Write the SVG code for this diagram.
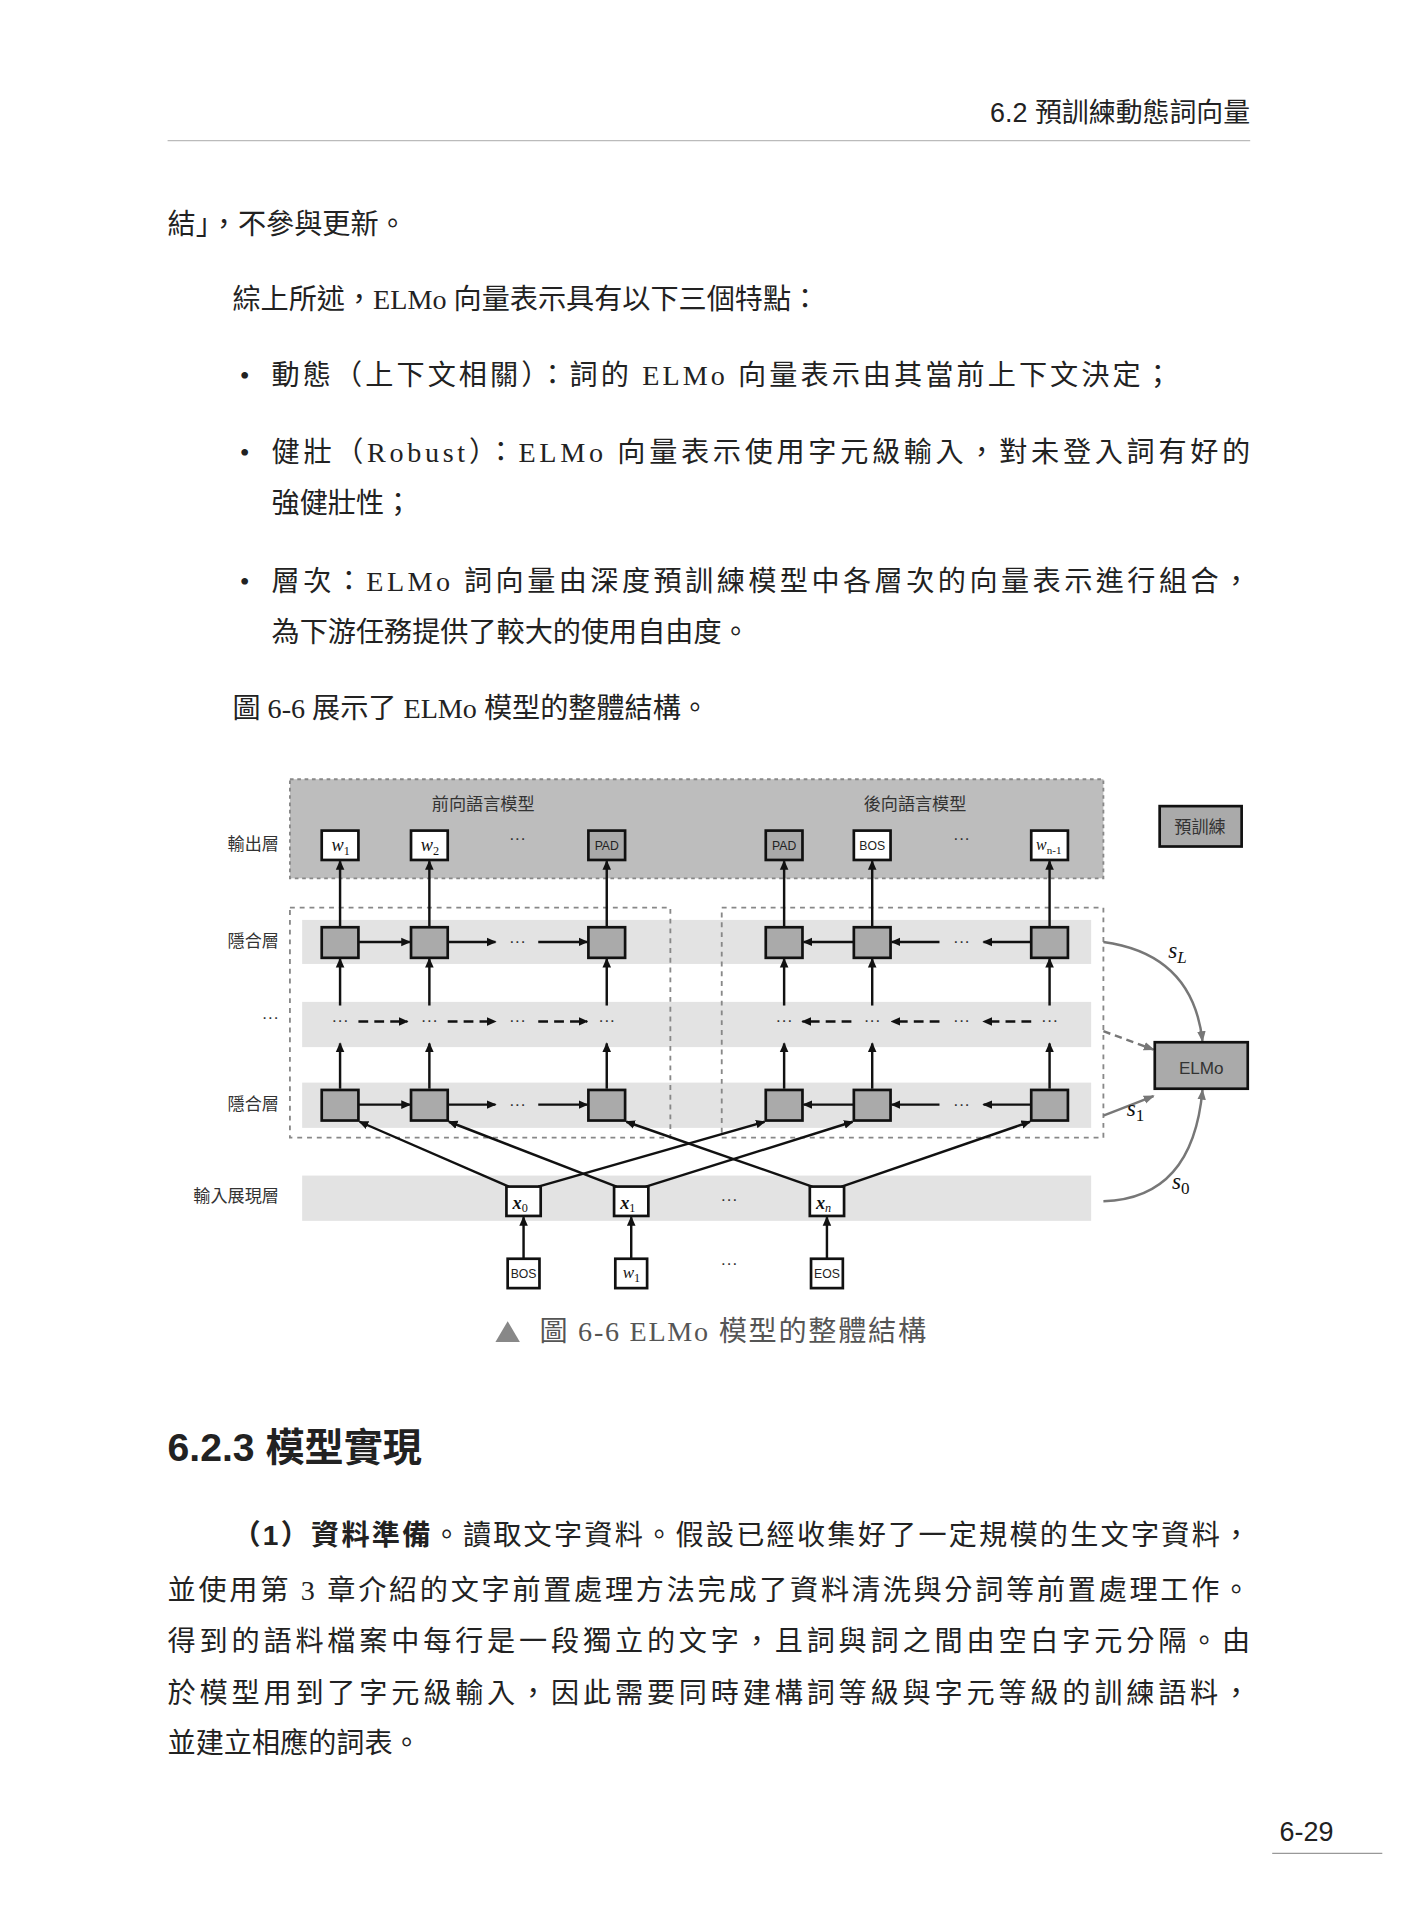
<svg xmlns="http://www.w3.org/2000/svg" width="1419" height="1920" viewBox="0 0 1419 1920">
<style>
.b{font-family:"Liberation Serif","Noto Sans CJK TC",serif;font-size:23px;fill:#222}
.s{font-family:"Liberation Sans","Noto Sans CJK TC",sans-serif;fill:#222}
.m{font-family:"Liberation Serif",serif;font-style:italic;fill:#111}
.lab{font-family:"Liberation Sans","Noto Sans CJK TC",sans-serif;font-size:14px;fill:#333}
.t{font-family:"Liberation Sans",sans-serif;font-size:10px;fill:#222}
.n{stroke:#111;stroke-width:2.2}
.w{fill:#fff}.g{fill:#aaa}
.ln{stroke:#111;stroke-width:2;fill:none}
.dl{stroke:#111;stroke-width:2;stroke-dasharray:8,5;fill:none}
.cv{stroke:#777;stroke-width:2;fill:none}
.band{fill:#e3e3e3}
</style>
<defs>
<marker id="a" markerWidth="8" markerHeight="8" refX="7" refY="4" orient="auto" markerUnits="userSpaceOnUse"><path d="M0,0.5 L8,4 L0,7.5 z" fill="#111"/></marker>
<marker id="ag" markerWidth="9" markerHeight="9" refX="8" refY="4.5" orient="auto" markerUnits="userSpaceOnUse"><path d="M0,1 L9,4.5 L0,8 z" fill="#777"/></marker>
</defs>
<g transform="scale(1.22328)">
<g id="page">
<text class="s" x="1022" y="100" font-size="22" text-anchor="end">6.2  預訓練動態詞向量</text>
<line x1="137" y1="115" x2="1022" y2="115" stroke="#bbb" stroke-width="1"/>
<text class="b" x="137" y="191">結」，不參與更新。</text>
<text class="b" x="190" y="253">綜上所述，ELMo 向量表示具有以下三個特點：</text>
<text class="b" x="196" y="315">•</text>
<text class="b" x="222" y="315" textLength="736">動態（上下文相關）：詞的 ELMo 向量表示由其當前上下文決定；</text>
<text class="b" x="196" y="378">•</text>
<text class="b" x="222" y="378" textLength="800">健壯（Robust）：ELMo 向量表示使用字元級輸入，對未登入詞有好的</text>
<text class="b" x="222" y="419">強健壯性；</text>
<text class="b" x="196" y="483">•</text>
<text class="b" x="222" y="483" textLength="800">層次：ELMo 詞向量由深度預訓練模型中各層次的向量表示進行組合，</text>
<text class="b" x="222" y="525">為下游任務提供了較大的使用自由度。</text>
<text class="b" x="190" y="587">圖 6-6 展示了 ELMo 模型的整體結構。</text>
<polygon points="405,1097 415,1080 425,1097" fill="#888"/>
<text class="b" x="441" y="1096" style="fill:#555" font-size="22" textLength="316">圖 6-6  ELMo 模型的整體結構</text>
<text class="s" x="137" y="1194" font-size="32" font-weight="bold">6.2.3  模型實現</text>
<text class="b" x="190" y="1263" textLength="832"><tspan class="s" font-weight="bold" font-size="23">（1）資料準備</tspan>。讀取文字資料。假設已經收集好了一定規模的生文字資料，</text>
<text class="b" x="137" y="1308" textLength="885">並使用第 3 章介紹的文字前置處理方法完成了資料清洗與分詞等前置處理工作。</text>
<text class="b" x="137" y="1350" textLength="885">得到的語料檔案中每行是一段獨立的文字，且詞與詞之間由空白字元分隔。由</text>
<text class="b" x="137" y="1392" textLength="885">於模型用到了字元級輸入，因此需要同時建構詞等級與字元等級的訓練語料，</text>
<text class="b" x="137" y="1433">並建立相應的詞表。</text>
<text class="s" x="1090" y="1505" font-size="22" text-anchor="end">6-29</text>
<line x1="1040" y1="1515" x2="1130" y2="1515" stroke="#999" stroke-width="1"/>
</g>
<g id="backgrounds">
<rect x="237" y="637" width="665" height="81" fill="#bdbdbd" stroke="#888" stroke-width="1.5" stroke-dasharray="3,3"/>
<rect x="247" y="752" width="645" height="36" class="band"/>
<rect x="247" y="819" width="645" height="37" class="band"/>
<rect x="247" y="885" width="645" height="37" class="band"/>
<rect x="247" y="961" width="645" height="37" class="band"/>
<rect x="237" y="742" width="311" height="188" fill="none" stroke="#888" stroke-width="1.5" stroke-dasharray="4,4"/>
<rect x="590" y="742" width="312" height="188" fill="none" stroke="#888" stroke-width="1.5" stroke-dasharray="4,4"/>
<text class="lab" x="395" y="662" text-anchor="middle" font-size="15">前向語言模型</text>
<text class="lab" x="748" y="662" text-anchor="middle" font-size="15">後向語言模型</text>
<text class="lab" x="228" y="695" text-anchor="end" font-size="15">輸出層</text>
<text class="lab" x="228" y="774" text-anchor="end" font-size="15">隱合層</text>
<text class="lab" x="228" y="836" text-anchor="end">···</text>
<text class="lab" x="228" y="907" text-anchor="end" font-size="15">隱合層</text>
<text class="lab" x="228" y="983" text-anchor="end" font-size="15">輸入展現層</text>
</g>
<g id="connectors">
<line class="ln" x1="278" y1="757" x2="278" y2="704" marker-end="url(#a)"/>
<line class="ln" x1="351" y1="757" x2="351" y2="704" marker-end="url(#a)"/>
<line class="ln" x1="496" y1="757" x2="496" y2="704" marker-end="url(#a)"/>
<line class="ln" x1="641" y1="757" x2="641" y2="704" marker-end="url(#a)"/>
<line class="ln" x1="713" y1="757" x2="713" y2="704" marker-end="url(#a)"/>
<line class="ln" x1="858" y1="757" x2="858" y2="704" marker-end="url(#a)"/>
<line class="ln" x1="278" y1="822" x2="278" y2="784" marker-end="url(#a)"/>
<line class="ln" x1="351" y1="822" x2="351" y2="784" marker-end="url(#a)"/>
<line class="ln" x1="496" y1="822" x2="496" y2="784" marker-end="url(#a)"/>
<line class="ln" x1="641" y1="822" x2="641" y2="784" marker-end="url(#a)"/>
<line class="ln" x1="713" y1="822" x2="713" y2="784" marker-end="url(#a)"/>
<line class="ln" x1="858" y1="822" x2="858" y2="784" marker-end="url(#a)"/>
<line class="ln" x1="278" y1="890" x2="278" y2="853" marker-end="url(#a)"/>
<line class="ln" x1="351" y1="890" x2="351" y2="853" marker-end="url(#a)"/>
<line class="ln" x1="496" y1="890" x2="496" y2="853" marker-end="url(#a)"/>
<line class="ln" x1="641" y1="890" x2="641" y2="853" marker-end="url(#a)"/>
<line class="ln" x1="713" y1="890" x2="713" y2="853" marker-end="url(#a)"/>
<line class="ln" x1="858" y1="890" x2="858" y2="853" marker-end="url(#a)"/>
<line class="ln" x1="293" y1="770" x2="335" y2="770" marker-end="url(#a)"/>
<line class="ln" x1="366" y1="770" x2="405" y2="770" marker-end="url(#a)"/>
<line class="ln" x1="440" y1="770" x2="480" y2="770" marker-end="url(#a)"/>
<line class="ln" x1="843" y1="770" x2="804" y2="770" marker-end="url(#a)"/>
<line class="ln" x1="768" y1="770" x2="729" y2="770" marker-end="url(#a)"/>
<line class="ln" x1="698" y1="770" x2="657" y2="770" marker-end="url(#a)"/>
<line class="ln" x1="293" y1="903" x2="335" y2="903" marker-end="url(#a)"/>
<line class="ln" x1="366" y1="903" x2="405" y2="903" marker-end="url(#a)"/>
<line class="ln" x1="440" y1="903" x2="480" y2="903" marker-end="url(#a)"/>
<line class="ln" x1="843" y1="903" x2="804" y2="903" marker-end="url(#a)"/>
<line class="ln" x1="768" y1="903" x2="729" y2="903" marker-end="url(#a)"/>
<line class="ln" x1="698" y1="903" x2="657" y2="903" marker-end="url(#a)"/>
<line class="dl" x1="293" y1="835" x2="333" y2="835" marker-end="url(#a)"/>
<line class="dl" x1="366" y1="835" x2="405" y2="835" marker-end="url(#a)"/>
<line class="dl" x1="440" y1="835" x2="480" y2="835" marker-end="url(#a)"/>
<line class="dl" x1="843" y1="835" x2="804" y2="835" marker-end="url(#a)"/>
<line class="dl" x1="768" y1="835" x2="729" y2="835" marker-end="url(#a)"/>
<line class="dl" x1="696" y1="835" x2="656" y2="835" marker-end="url(#a)"/>
<line class="ln" x1="416" y1="970" x2="294" y2="917" marker-end="url(#a)"/>
<line class="ln" x1="440" y1="970" x2="625" y2="917" marker-end="url(#a)"/>
<line class="ln" x1="504" y1="970" x2="367" y2="917" marker-end="url(#a)"/>
<line class="ln" x1="528" y1="970" x2="697" y2="917" marker-end="url(#a)"/>
<line class="ln" x1="664" y1="970" x2="512" y2="917" marker-end="url(#a)"/>
<line class="ln" x1="688" y1="970" x2="842" y2="917" marker-end="url(#a)"/>
<line class="ln" x1="428" y1="1029" x2="428" y2="995" marker-end="url(#a)"/>
<line class="ln" x1="516" y1="1029" x2="516" y2="995" marker-end="url(#a)"/>
<line class="ln" x1="676" y1="1029" x2="676" y2="995" marker-end="url(#a)"/>
<path class="cv" d="M902,770 Q975,780 983,851" marker-end="url(#ag)"/>
<path class="cv" d="M902,843 L943,858" stroke-dasharray="6,4" marker-end="url(#ag)"/>
<path class="cv" d="M902,912 L943,896" marker-end="url(#ag)"/>
<path class="cv" d="M902,982 Q975,980 983,891" marker-end="url(#ag)"/>
<text class="m" x="955" y="783" font-size="19">s<tspan font-size="14" dy="4">L</tspan></text>
<text class="m" x="921" y="912" font-size="19">s<tspan font-size="14" dy="4" font-style="normal">1</tspan></text>
<text class="m" x="958" y="972" font-size="19">s<tspan font-size="14" dy="4" font-style="normal">0</tspan></text>
</g>
<g id="out-nodes">
<g id="o1"><rect class="n w" x="263" y="679" width="30" height="24"/><text class="m" x="271" y="696" font-size="15">w<tspan font-size="10" dy="3" font-style="normal">1</tspan></text></g>
<g id="o2"><rect class="n w" x="336" y="679" width="30" height="24"/><text class="m" x="344" y="696" font-size="15">w<tspan font-size="10" dy="3" font-style="normal">2</tspan></text></g>
<text class="lab" x="423" y="690" text-anchor="middle" font-size="12">···</text>
<g id="o3"><rect class="n g" x="481" y="679" width="30" height="24"/><text class="t" x="496" y="695" text-anchor="middle">PAD</text></g>
<g id="o4"><rect class="n g" x="626" y="679" width="30" height="24"/><text class="t" x="641" y="695" text-anchor="middle">PAD</text></g>
<g id="o5"><rect class="n w" x="698" y="679" width="30" height="24"/><text class="t" x="713" y="695" text-anchor="middle">BOS</text></g>
<text class="lab" x="786" y="690" text-anchor="middle" font-size="12">···</text>
<g id="o6"><rect class="n w" x="843" y="679" width="30" height="24"/><text class="m" x="847" y="695" font-size="13">w<tspan font-size="9" dy="3" font-style="normal">n-1</tspan></text></g>
</g>
<g id="hidden-nodes">
<rect class="n g" x="263" y="758" width="30" height="25"/>
<rect class="n g" x="336" y="758" width="30" height="25"/>
<rect class="n g" x="481" y="758" width="30" height="25"/>
<rect class="n g" x="626" y="758" width="30" height="25"/>
<rect class="n g" x="698" y="758" width="30" height="25"/>
<rect class="n g" x="843" y="758" width="30" height="25"/>
<rect class="n g" x="263" y="891" width="30" height="25"/>
<rect class="n g" x="336" y="891" width="30" height="25"/>
<rect class="n g" x="481" y="891" width="30" height="25"/>
<rect class="n g" x="626" y="891" width="30" height="25"/>
<rect class="n g" x="698" y="891" width="30" height="25"/>
<rect class="n g" x="843" y="891" width="30" height="25"/>
<text class="lab" x="423" y="774" text-anchor="middle" font-size="12">···</text>
<text class="lab" x="786" y="774" text-anchor="middle" font-size="12">···</text>
<text class="lab" x="423" y="907" text-anchor="middle" font-size="12">···</text>
<text class="lab" x="786" y="907" text-anchor="middle" font-size="12">···</text>
<text class="lab" x="278" y="839" text-anchor="middle" font-size="12">···</text>
<text class="lab" x="351" y="839" text-anchor="middle" font-size="12">···</text>
<text class="lab" x="423" y="839" text-anchor="middle" font-size="12">···</text>
<text class="lab" x="496" y="839" text-anchor="middle" font-size="12">···</text>
<text class="lab" x="641" y="839" text-anchor="middle" font-size="12">···</text>
<text class="lab" x="713" y="839" text-anchor="middle" font-size="12">···</text>
<text class="lab" x="786" y="839" text-anchor="middle" font-size="12">···</text>
<text class="lab" x="858" y="839" text-anchor="middle" font-size="12">···</text>
</g>
<g id="input-nodes">
<g id="x0"><rect class="n w" x="414" y="970" width="28" height="24"/><text class="m" x="419" y="988" font-size="15" font-weight="bold">x<tspan font-size="10" dy="3" font-style="normal" font-weight="normal">0</tspan></text></g>
<g id="x1"><rect class="n w" x="502" y="970" width="28" height="24"/><text class="m" x="507" y="988" font-size="15" font-weight="bold">x<tspan font-size="10" dy="3" font-style="normal" font-weight="normal">1</tspan></text></g>
<text class="lab" x="596" y="985" text-anchor="middle" font-size="12">···</text>
<g id="xn"><rect class="n w" x="662" y="970" width="28" height="24"/><text class="m" x="667" y="988" font-size="15" font-weight="bold">x<tspan font-size="10" dy="3" font-weight="normal">n</tspan></text></g>
<g id="bos"><rect class="n w" x="415" y="1029" width="26" height="24"/><text class="t" x="428" y="1045" font-size="9" text-anchor="middle">BOS</text></g>
<g id="win"><rect class="n w" x="503" y="1029" width="26" height="24"/><text class="m" x="509" y="1045" font-size="14">w<tspan font-size="10" dy="3" font-style="normal">1</tspan></text></g>
<text class="lab" x="596" y="1037" text-anchor="middle" font-size="12">···</text>
<g id="eos"><rect class="n w" x="663" y="1029" width="26" height="24"/><text class="t" x="676" y="1045" font-size="9" text-anchor="middle">EOS</text></g>
</g>
<g id="legend"><rect class="n g" x="948" y="659" width="67" height="33"/><text class="lab" x="981" y="681" font-size="15" text-anchor="middle">預訓練</text></g>
<g id="elmo"><rect class="n g" x="944" y="852" width="76" height="38"/><text class="lab" x="982" y="878" font-size="20" text-anchor="middle">ELMo</text></g>
</g>
</svg>
